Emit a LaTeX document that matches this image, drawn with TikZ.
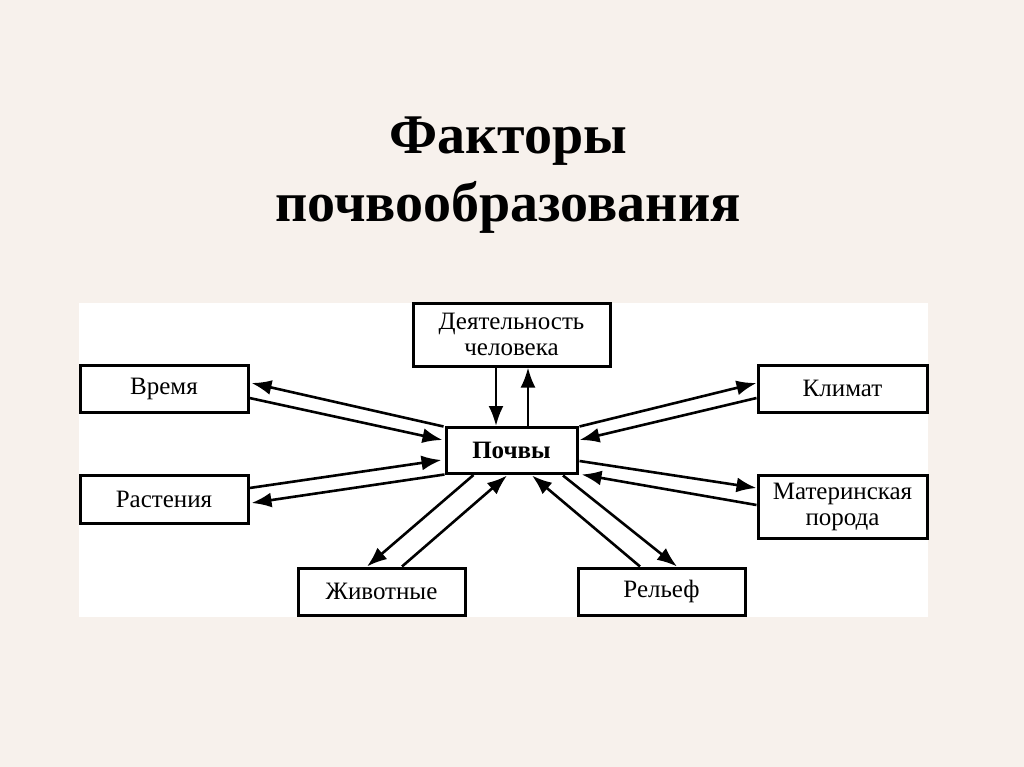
\documentclass[tikz,border=0pt]{standalone}
\usepackage{fontspec}
\setmainfont{Liberation Serif}
\usetikzlibrary{arrows.meta,calc}
\definecolor{bgc}{HTML}{F7F1EC}
\begin{document}
\begin{tikzpicture}[x=1pt,y=-1pt,
  fbox/.style={draw=black,line width=3pt,fill=white,inner sep=0pt,font=\fontsize{25}{27}\selectfont,align=center},
  conn/.style={line width=2.6pt,-{Latex[length=20pt,width=15pt]}}]
\useasboundingbox (0,0) rectangle (1024,767);
\fill[bgc] (0,0) rectangle (1024,767);
\fill[white] (79,303) rectangle (928,617);
\node[font=\bfseries\fontsize{56}{60}\selectfont] (t1) at (508,141) {Факторы};
\node[font=\bfseries\fontsize{56}{60}\selectfont] (t2) at (508,207) {почвообразования};
% boxes
\node[fbox,minimum width=168pt,minimum height=47pt] (vr) at (164,388.5) {Время};
\node[fbox,minimum width=168pt,minimum height=48pt] (ra) at (164,499) {Растения};
\node[fbox,minimum width=167pt,minimum height=47pt] (zh) at (381.5,591.5) {Животные};
\node[fbox,minimum width=131pt,minimum height=46pt,font=\bfseries\fontsize{25}{27}\selectfont] (po) at (511.5,450.5) {Почвы};
\node[fbox,minimum width=197pt,minimum height=63pt] (de) at (511.5,334.5) {Деятельность\\[-1pt]человека};
\node[fbox,minimum width=169pt,minimum height=47pt] (kl) at (842.5,388.5) {Климат};
\node[fbox,minimum width=169pt,minimum height=63pt] (ma) at (842.5,506.5) {Материнская\\[-1pt]порода};
\node[fbox,minimum width=167pt,minimum height=47pt] (re) at (661.5,591.5) {Рельеф};
% connectors
\draw[conn] ($(de.south)+(-15.5,0)$) -- ($(po.north)+(-15.5,0)$);
\draw[conn] ($(po.north)+(16.5,0)$) -- ($(de.south)+(16.5,0)$);
\draw[conn] ($(po.north west)+(-1,0.5)$) -- ($(vr.east)+(2,-5.5)$);
\draw[conn] ($(vr.east)+(0,9.5)$) -- ($(po.west)+(-2,-10.5)$);
\draw[conn] ($(ra.east)+(0,-11)$) -- ($(po.west)+(-3,9.5)$);
\draw[conn] ($(po.south west)+(0,-0.5)$) -- ($(ra.east)+(2,4)$);
\draw[conn] ($(po.south west)+(29,0)$) -- ($(zh.north)+(-14.5,0)$);
\draw[conn] ($(zh.north)+(20.5,0)$) -- ($(po.south)+(-4.5,0.5)$);
\draw[conn] ($(po.north east)+(1,0.5)$) -- ($(kl.west)+(0,-5.5)$);
\draw[conn] ($(kl.west)+(0,9.5)$) -- ($(po.east)+(1,-10.5)$);
\draw[conn] ($(po.east)+(1,10.5)$) -- ($(ma.west)+(0,-18.5)$);
\draw[conn] ($(ma.west)+(0,-1.5)$) -- ($(po.south east)+(3,-0.5)$);
\draw[conn] ($(re.north)+(-21.5,0)$) -- ($(po.south)+(20.5,0.5)$);
\draw[conn] ($(po.south)+(51.5,0.5)$) -- ($(re.north)+(15.5,0)$);
\end{tikzpicture}
\end{document}
